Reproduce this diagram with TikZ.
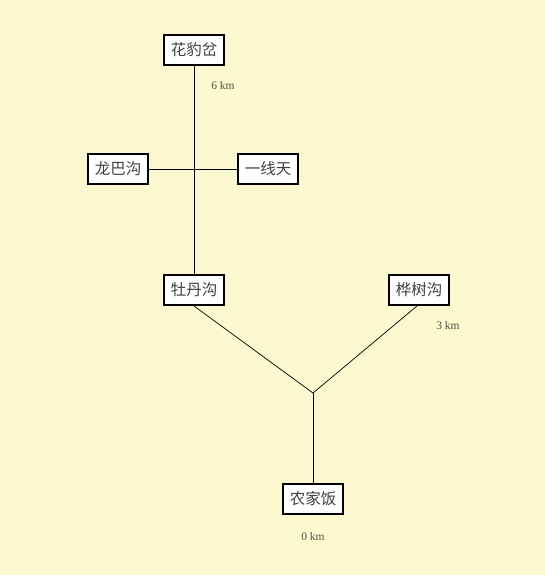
\documentclass[tikz,border=0pt]{standalone}
\usepackage{fontspec}
\newfontfamily\cjk{Noto Sans CJK SC}
\setmainfont{Liberation Serif}
\definecolor{bg}{RGB}{252,248,208}
\definecolor{lbl}{RGB}{80,80,70}
\begin{document}
\begin{tikzpicture}[x=1pt,y=-1pt,
  place/.style={draw=black,line width=2pt,fill=white,minimum width=60pt,minimum height=30pt,inner sep=0pt,font=\cjk\fontsize{15.5}{15.5}\selectfont,text=black!75},
  road/.style={draw=black,line width=0.7pt},
  km/.style={font=\fontsize{11.5}{11.5}\selectfont,text=lbl}]
\fill[bg] (0,0) rectangle (545,575);
\useasboundingbox (0,0) rectangle (545,575);
\node[place] (hbc) at (194,50) {花豹岔};
\node[place] (lbg) at (118,169) {龙巴沟};
\node[place] (yxt) at (268,169) {一线天};
\node[place] (mdg) at (194,290) {牡丹沟};
\node[place] (hsg) at (419,290) {桦树沟};
\node[place] (njf) at (313,499) {农家饭};
\coordinate (junc) at (313,393);
\draw[road] (hbc.south) -- (mdg.north);
\draw[road] (lbg.east) -- (yxt.west);
\draw[road] (mdg.south) -- (junc);
\draw[road] ([xshift=-2pt]hsg.south) -- (junc);
\draw[road] (junc) -- (njf.north);
\node[km] (k6) at (223,86) {6 km};
\node[km] (k3) at (448,326) {3 km};
\node[km] (k0) at (313,537) {0 km};
\end{tikzpicture}
\end{document}
